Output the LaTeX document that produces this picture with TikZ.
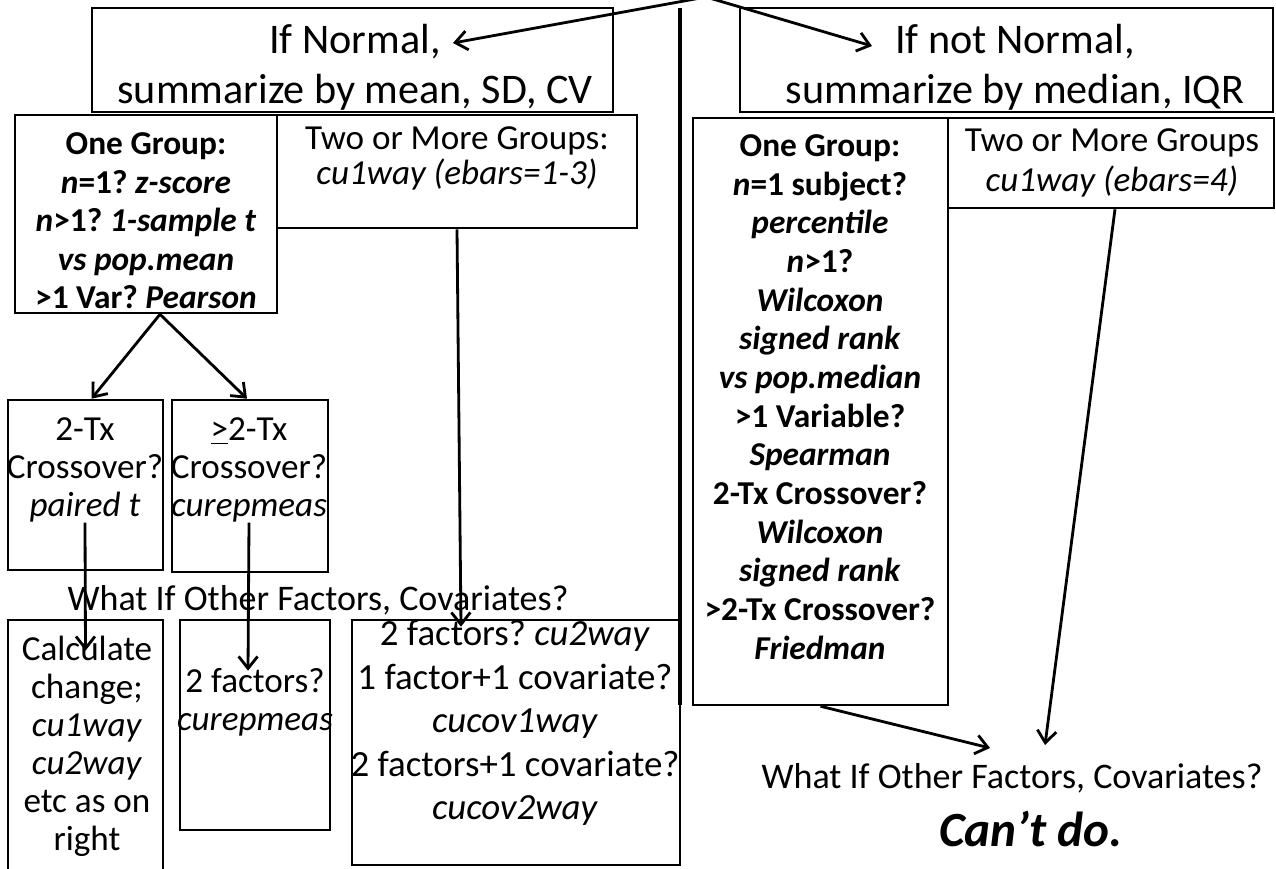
\documentclass[tikz,border=0pt]{standalone}
\usepackage{fontspec}
\setmainfont{Carlito}
\usepackage{tikz}
\usetikzlibrary{positioning,arrows.meta}
\tikzset{
  flow/.style={-{Straight Barb[length=2.4mm,width=3.8mm]}, line width=1.6pt, draw=black},
  every node/.style={anchor=center}
}
\frenchspacing

\begin{document}
\begin{tikzpicture}[
    x=0.02cm, y=-0.02cm,
    box/.style={draw=black, line width=1.5pt, inner sep=0pt},
    txt/.style={align=center, inner sep=0pt, font=\fontsize{20}{21.6}\selectfont},
    boldtxt/.style={align=center, inner sep=0pt, font=\bfseries\fontsize{19}{21.9}\selectfont},
    hdr/.style={align=center, inner sep=0pt, font=\fontsize{24}{28.5}\selectfont},
    bigtxt/.style={align=center, inner sep=0pt, font=\fontsize{21}{24.7}\selectfont},
    divider/.style={line width=2.8pt}
  ]

  \useasboundingbox (0,0) rectangle (1276,869);
  \fill[white] (0,0) rectangle (1276,869);
  \clip (0,0) rectangle (1276,869);

  % top row
  \node[box, minimum width=10.42cm, minimum height=2.08cm] (normal) at (352.5,60) {};
  \node[hdr] (normaltxt) at (355,67) {If Normal,\\summarize by mean, SD, CV};
  \node[box, minimum width=10.66cm, minimum height=2.08cm] (notnormal) at (1006.5,60) {};
  \node[hdr] (notnormaltxt) at (1015,67) {If not Normal,\\summarize by median, IQR};

  % divider
  \coordinate (divtop) at (680,8);
  \coordinate (divbot) at (680,705);
  \draw[divider] (divtop) -- (divbot);

  % left side, normal data
  \node[box, minimum width=5.24cm, minimum height=3.96cm] (grp1L) at (146,214) {};
  \node[boldtxt] (grp1Ltxt) at (146,221) {One Group:\\\textit{n}=1? \textit{z-score}\\\textit{n}>1? \textit{1-sample t}\\\textit{vs pop.mean}\\>1 Var? \textit{Pearson}};
  \node[box, minimum width=7.2cm, minimum height=2.26cm] (grp2L) at (457,171.5) {};
  \node[txt, font=\fontsize{20}{20}\selectfont] (grp2Ltxt) at (457,158) {Two or More Groups:\\\textit{cu1way (ebars=1-3)}};

  \node[box, minimum width=3.1cm, minimum height=3.4cm] (tx2) at (85.5,485) {};
  \node[txt] (tx2txt) at (85,470) {2-Tx\\Crossover?\\\textit{paired t}};
  \node[box, minimum width=3.12cm, minimum height=3.44cm] (tx3) at (250,486) {};
  \node[txt] (tx3txt) at (249,470) {\underline{>}2-Tx\\Crossover?\\\textit{curepmeas}};

  \node[txt, font=\fontsize{20.5}{24}\selectfont] (whatLtxt) at (318,600) {What If Other Factors, Covariates?};

  \node[box, minimum width=3.1cm, minimum height=5.4cm] (calc) at (85.5,755) {};
  \node[txt] (calctxt) at (87,746) {Calculate\\change;\\\textit{cu1way}\\\textit{cu2way}\\etc as on\\right};
  \node[box, minimum width=3.0cm, minimum height=4.2cm] (fac2) at (255,725) {};
  \node[txt] (fac2txt) at (255,702) {2 factors?\\\textit{curepmeas}};
  \node[box, minimum width=6.56cm, minimum height=4.9cm] (multi) at (516,742.5) {};
  \node[bigtxt] (multitxt) at (515,723) {2 factors? \textit{cu2way}\\1 factor+1 covariate?\\\textit{cucov1way}\\2 factors+1 covariate?\\\textit{cucov2way}};

  % right side, non-normal data
  \node[box, minimum width=5.1cm, minimum height=11.74cm] (grp1R) at (820.5,411.5) {};
  \node[boldtxt, font=\bfseries\fontsize{19}{22}\selectfont] (grp1Rtxt) at (820,397) {One Group:\\\textit{n}=1 subject?\\\textit{percentile}\\\textit{n}>1?\\\textit{Wilcoxon}\\\textit{signed rank}\\\textit{vs pop.median}\\>1 Variable?\\\textit{Spearman}\\2-Tx Crossover?\\\textit{Wilcoxon}\\\textit{signed rank}\\>2-Tx Crossover?\\\textit{Friedman}};
  \node[box, minimum width=6.52cm, minimum height=1.8cm] (grp2R) at (1111,163) {};
  \node[txt, font=\fontsize{20}{22.8}\selectfont] (grp2Rtxt) at (1112,163) {Two or More Groups\\\textit{cu1way (ebars=4)}};

  \node[txt, font=\fontsize{20.5}{24}\selectfont] (whatRtxt) at (1012,778) {What If Other Factors, Covariates?};
  \node[txt, font=\bfseries\itshape\fontsize{28}{30}\selectfont] (cantdo) at (1031,829) {Can’t do.};

  % arrows
  \coordinate (src) at (706,-3);
  \coordinate (normtip) at (453,43);
  \coordinate (nntip) at (872,46);
  \coordinate (medtip) at (990,748);
  \coordinate (iqrtip) at (1045,745);
  \draw[flow] (src) -- (normtip);
  \draw[flow] (src) -- (nntip);
  \draw[flow] ([xshift=0.28cm]grp1L.south) -- ([xshift=0.12cm]tx2.north);
  \draw[flow] ([xshift=0.28cm]grp1L.south) -- ([xshift=-0.06cm]tx3.north);
  \draw[flow] (grp2L.south) -- ([xshift=-1.1cm, yshift=-0.16cm]multi.north);
  \draw[flow] (tx2txt.south) -- ([yshift=-0.64cm]calc.north);
  \draw[flow] (tx3txt.south) -- ([xshift=-0.14cm, yshift=-1.04cm]fac2.north);
  \draw[flow] ([xshift=0.08cm]grp2R.south) -- (iqrtip);
  \draw[flow] (grp1R.south) -- (medtip);

\end{tikzpicture}
\end{document}
